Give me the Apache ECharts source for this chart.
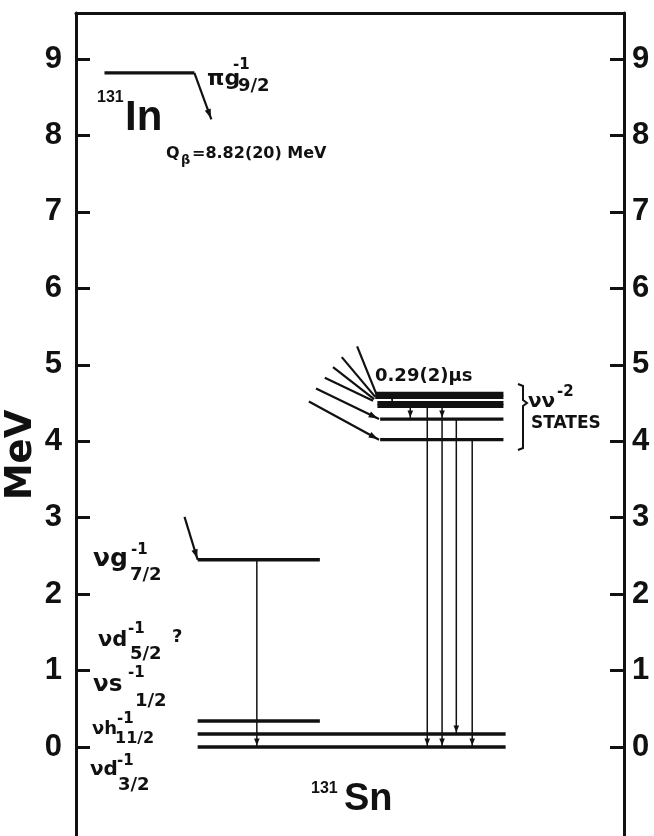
<!DOCTYPE html>
<html><head><meta charset="utf-8">
<script src="https://cdn.jsdelivr.net/npm/echarts@6/dist/echarts.min.js"></script>
<style>html,body{margin:0;padding:0;background:#fff}#c{width:654px;height:836px}</style>
</head><body><div id="c"></div>
<script>
// ---------- data (MeV) ----------
const yTickValues = [0, 1, 2, 3, 4, 5, 6, 7, 8, 9];
const inGroundLevel = [8.82];                    // 131In g.s. (Q beta- = 8.82 MeV)
const snLowLevels = [0.00, 0.17, 0.34, 2.45];    // 131Sn single-hole states
const snHighLevels = [4.62, 4.58, 4.50, 4.46, 4.29, 4.02]; // nu nu^-2 states
const gammaFrom = [2.45, 4.58, 4.46, 4.46, 4.46, 4.29, 4.29, 4.02];
const gammaTo   = [0.00, 4.50, 4.29, 0.00, 4.29, 0.00, 0.17, 0.00];
const highFeedTo = [4.62, 4.58, 4.55, 4.53, 4.29, 4.02];
const lowFeedTo = [2.45];
const inDecayTo = [8.21];

// ---------- layout (diagram x units 0..100, feed starts) ----------
const LAYOUT = {
  lowLong: [true, true, false, false],
  lowX: [22.2, 78.4], lowShortX: [22.2, 44.5],
  highStartX: [54.6, 54.6, 55.0, 55.0, 55.5, 55.5], highEndX: 78.0,
  highThick: [true, true, true, true, false, false],
  inX: [5.2, 21.6], inArrowX: 24.7,
  gammaX: [33.0, 57.7, 61.0, 64.1, 66.8, 66.8, 69.4, 72.3],
  highFeedStart: [[51.3, 5.24], [48.5, 5.10], [46.9, 4.97], [45.4, 4.83], [43.8, 4.69], [42.5, 4.52]],
  highFeedEndX: [54.8, 54.6, 54.4, 54.2, 55.3, 55.3],
  lowFeedStart: [[19.8, 3.01]], lowFeedEndX: [22.2]
};

// build segments: [x1, y1, x2, y2, kind]  kind: 0 level, 1 gamma, 2 feed arrow, 3 feed plain, 4 thin level, 5 heavy level
const segs = [];
inGroundLevel.forEach(e => segs.push([LAYOUT.inX[0], e, LAYOUT.inX[1], e, 4]));
inDecayTo.forEach((e, i) => segs.push([LAYOUT.inX[1], inGroundLevel[i], LAYOUT.inArrowX, e, 2]));
snLowLevels.forEach((e, i) => {
  const xr = LAYOUT.lowLong[i] ? LAYOUT.lowX : LAYOUT.lowShortX;
  segs.push([xr[0], e, xr[1], e, 0]);
});
snHighLevels.forEach((e, i) => segs.push([LAYOUT.highStartX[i], e, LAYOUT.highEndX, e, LAYOUT.highThick[i] ? 5 : 4]));
gammaFrom.forEach((e, i) => segs.push([LAYOUT.gammaX[i], e, LAYOUT.gammaX[i], gammaTo[i], 1]));
highFeedTo.forEach((e, i) => segs.push([LAYOUT.highFeedStart[i][0], LAYOUT.highFeedStart[i][1], LAYOUT.highFeedEndX[i], e, i < 4 ? 3 : 2]));
lowFeedTo.forEach((e, i) => segs.push([LAYOUT.lowFeedStart[i][0], LAYOUT.lowFeedStart[i][1], LAYOUT.lowFeedEndX[i], e, 2]));

const INK = '#111';
const FONT = 'Liberation Sans, Arial, sans-serif';
const FONT2 = 'DejaVu Sans, Liberation Sans, sans-serif';

function renderItem(params, api) {
  const p1 = api.coord([api.value(0), api.value(1)]);
  const p2 = api.coord([api.value(2), api.value(3)]);
  const kind = api.value(4);
  const w = kind === 0 ? 3.5 : kind === 5 ? 4 : kind === 4 ? 3.2 : kind === 1 ? 1.5 : 2.2;
  const children = [{ type: 'line', shape: { x1: p1[0], y1: p1[1], x2: p2[0], y2: p2[1] },
    style: { stroke: INK, lineWidth: w, lineCap: 'butt' } }];
  if (kind === 1 || kind === 2) {
    const dx = p2[0] - p1[0], dy = p2[1] - p1[1];
    const len = Math.hypot(dx, dy), ux = dx / len, uy = dy / len;
    const hl = kind === 1 ? 7 : 9, hw = kind === 1 ? 2.8 : 3.2;
    const tx = p2[0] - ux * 1.5, ty = p2[1] - uy * 1.5;
    const bx = tx - ux * hl, by = ty - uy * hl;
    children.push({ type: 'polygon', shape: { points: [[tx, ty], [bx - uy * hw, by + ux * hw], [bx + uy * hw, by - ux * hw]] },
      style: { fill: INK } });
  }
  return { type: 'group', children };
}

function txt(text, x, y, size, font) {
  return { type: 'text', x, y, style: { text, fill: INK, font: 'bold ' + size + 'px ' + (font || FONT2),
    textAlign: 'left', textVerticalAlign: 'middle' } };
}

const graphics = [
  txt('131', 97, 98, 16, FONT), txt('In', 125, 118, 42, FONT),
  txt('πg', 207, 79, 22), txt('-1', 233, 65, 15), txt('9/2', 238, 86, 18),
  txt('Q', 166, 154, 16), txt('β', 181, 161, 13), txt('=8.82(20) MeV', 192, 154, 16),
  txt('0.29(2)μs', 375, 376, 18),
  txt('νν', 528, 402, 20), txt('-2', 557, 392, 15), txt('STATES', 531, 424, 17),
  txt('131', 311, 789, 16, FONT), txt('Sn', 344, 800, 38, FONT),
  txt('νg', 93, 559, 25), txt('-1', 131, 550, 15), txt('7/2', 130, 575, 18),
  txt('νd', 98, 641, 21), txt('-1', 128, 629, 15), txt('5/2', 130, 654, 18), txt('?', 172, 637, 18),
  txt('νs', 93, 685, 23), txt('-1', 128, 673, 15), txt('1/2', 135, 701, 18),
  txt('νh', 92, 729, 18), txt('-1', 117, 719, 15), txt('11/2', 115, 739, 16),
  txt('νd', 90, 770, 20), txt('-1', 117, 761, 15), txt('3/2', 118, 785, 18),
  { type: 'text', x: 21, y: 455, rotation: Math.PI / 2,
    style: { text: 'MeV', fill: INK, font: 'bold 37px ' + FONT2, textAlign: 'center', textVerticalAlign: 'middle' } },
  { type: 'polyline', shape: { points: [[518, 384], [523, 386], [523, 400], [527, 403], [523, 406], [523, 448], [518, 450]] },
    style: { stroke: INK, lineWidth: 2, fill: null } }
];

const yAxisBase = (pos, margin) => ({
  type: 'value', min: -1.164, max: 9.602, position: pos,
  axisLine: { show: true, onZero: false, lineStyle: { color: INK, width: 3 } },
  axisTick: { show: true, inside: true, length: 14, lineStyle: { color: INK, width: 3 }, customValues: yTickValues },
  axisLabel: { show: true, customValues: yTickValues, fontSize: 31, fontWeight: 'bold', fontFamily: FONT, color: INK, margin },
  splitLine: { show: false }
});

const chart = echarts.init(document.getElementById('c'), null, { renderer: 'canvas' });
chart.setOption({
  animation: false,
  backgroundColor: '#fff',
  grid: { left: 76, right: 30, top: 13, bottom: 0, containLabel: false },
  xAxis: { type: 'value', min: 0, max: 100, position: 'top',
    axisLine: { show: true, onZero: false, lineStyle: { color: INK, width: 3 } },
    axisTick: { show: false }, axisLabel: { show: false }, splitLine: { show: false } },
  yAxis: [yAxisBase('left', 14), yAxisBase('right', 8)],
  series: [{
    type: 'custom', renderItem, clip: false,
    encode: { x: [0, 2], y: [1, 3] },
    data: segs
  }],
  graphic: graphics
});
</script></body></html>
